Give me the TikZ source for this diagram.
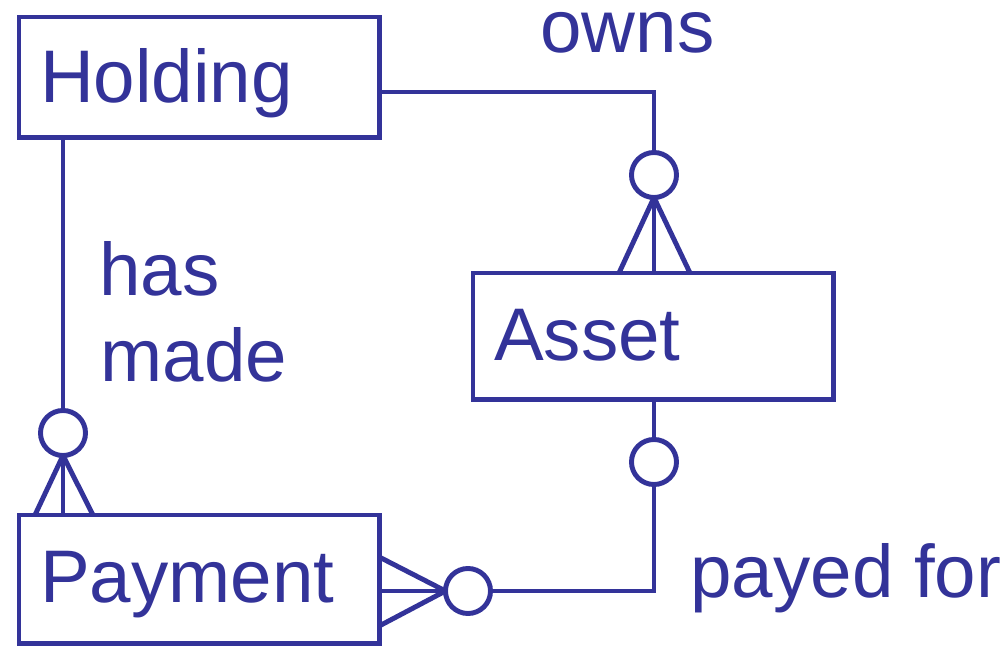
\documentclass[tikz,border=0pt]{standalone}
\usepackage{fontspec}
\setmainfont{Liberation Sans}
\usetikzlibrary{calc}
\definecolor{erblue}{RGB}{51,51,153}

\begin{document}
\begin{tikzpicture}[x=0.01cm, y=-0.01cm, line width=1.4pt, color=erblue,
	every node/.style={font=\fontsize{21.2}{25}\selectfont},
	entity/.style={draw, anchor=north west, outer sep=0pt, minimum width=3.6cm, text width=3.18cm, inner xsep=0.21cm, inner ysep=0pt, align=left, text height=0.87cm, text depth=0.39cm},
	ring/.style={draw, circle, minimum size=0.45cm, inner sep=0pt, outer sep=0pt},
	rel/.style={anchor=base west, inner sep=0pt}]
			%%%%% START %%%%%
			\useasboundingbox (0,0) rectangle (1005,646);
			
			\node[entity, text height=0.85cm, text depth=0.35cm] (hold) at (19,17) {Holding};
			\node[entity] (asset) at (473,273) {Asset};
			\node[entity, text depth=0.41cm] (pay) at (19,515) {Payment};
			
			\node[ring] (ownsO) at (654,175) {};
			\node[ring] (madeO) at (63,433) {};
			\node[ring] (paidA) at (654,462) {};
			\node[ring] (paidP) at (468,591) {};
			
			\coordinate (ownsK) at (654,92);
			\coordinate (paidK) at (654,591);
			
			% holding owns asset
			\draw (hold.east |- ownsK) -- (ownsK) -- (ownsO.north);
			\foreach \dx in {-35,0,36}
				\draw (ownsO.south) -- ($(ownsO.south |- asset.north)+(\dx,0)$);
			
			% holding has made payment
			\draw (hold.south -| madeO) -- (madeO.north);
			\foreach \dx in {-28,0,30}
				\draw (madeO.south) -- ($(madeO.south |- pay.north)+(\dx,0)$);
			
			% payment payed for asset
			\draw (asset.south -| paidA) -- (paidA.north);
			\draw (paidA.south) -- (paidK) -- (paidP.east);
			\foreach \dy in {-34,0,35}
				\draw (paidP.west) -- ($(paidP.west -| pay.east)+(0,\dy)$);
			
			\node[rel] (owns) at (538,53) {owns};
			\node[rel] (has) at (97,296) {has};
			\node[rel] (made) at (98,382) {made};
			\node[rel] (payed) at (688,598) {payed for};
			%%%%% END %%%%%
\end{tikzpicture}
\end{document}
